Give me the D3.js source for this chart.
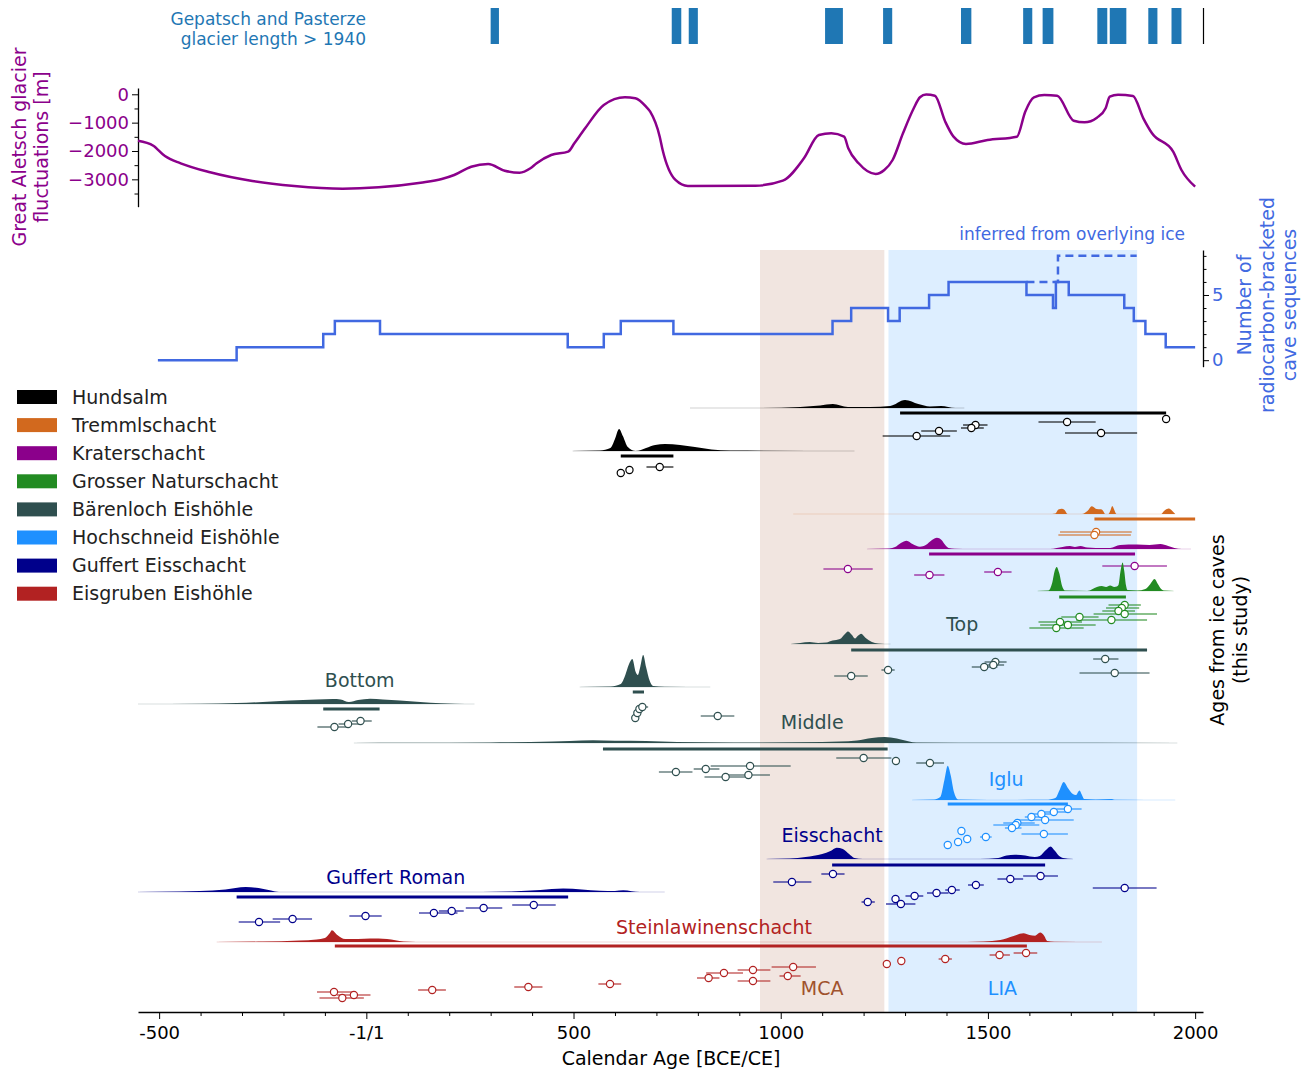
<!DOCTYPE html>
<html>
<head>
<meta charset="utf-8">
<script src="https://cdnjs.cloudflare.com/ajax/libs/d3/7.8.5/d3.min.js"></script>
<style>
  body { margin: 0; background: #fff; }
  text { font-family: "DejaVu Sans", sans-serif; }
</style>
</head>
<body>
<svg id="chart" width="1311" height="1073"></svg>
<script>
// ---- data ----
const xTickValues = [-500, 0, 500, 1000, 1500, 2000];
const xTickLabels = ['-500', '-1/1', '500', '1000', '1500', '2000'];

// Gepatsch / Pasterze glacier longer than 1940 (start, end years)
const glacierPeriods = [[300, 320], [737, 760], [778, 800], [1107, 1150], [1247, 1269], [1435, 1460],
  [1585, 1607], [1632, 1658], [1764, 1788], [1794, 1834], [1887, 1909], [1943, 1967]];

// Great Aletsch glacier fluctuations [m]
const aletschYears = [-551, -514, -486, -448, -377, -275, -174, -57, 30, 131, 182, 212, 253, 294, 334, 370, 396, 411,
  446, 487, 502, 528, 573, 624, 649, 675, 685, 708, 715, 746, 776, 939, 1005, 1056, 1092, 1122, 1153, 1163, 1188,
  1229, 1250, 1270, 1295, 1321, 1336, 1351, 1372, 1397, 1417, 1447, 1499, 1570, 1590, 1611, 1636, 1667, 1707, 1733,
  1763, 1784, 1794, 1814, 1850, 1875, 1896, 1947, 1967, 2000];
const aletschValues = [-1637, -1813, -2180, -2434, -2751, -3058, -3235, -3330, -3280, -3118, -2988, -2847, -2554,
  -2459, -2695, -2765, -2610, -2434, -2141, -2025, -1728, -1199, -377, -106, -141, -437, -613, -1496, -1964, -3022,
  -3234, -3223, -3046, -2257, -1435, -1375, -1495, -1904, -2434, -2811, -2670, -2317, -1376, -494, -106, -10, -49,
  -966, -1495, -1753, -1612, -1495, -613, -106, -25, -49, -931, -988, -825, -494, -84, -14, -60, -847, -1376, -2025,
  -2670, -3259];

// number of radiocarbon-bracketed cave sequences
const countYears = [-503, -313, -104, -76, 33, 486, 573, 614, 741, 1125, 1170, 1259, 1287, 1358, 1405, 1593, 1657,
  1664, 1695, 1829, 1852, 1880, 1929, 2000];
const countValues = [0, 1, 2, 3, 2, 1, 2, 3, 2, 3, 4, 3, 4, 5, 6, 5, 4, 6, 5, 4, 3, 2, 1, 1];
const inferredYears = [1593, 1669, 1859];
const inferredValues = [6, 8, 8];

// climate periods
const periodNames = ['MCA', 'LIA'];
const periodRanges = [[950, 1250], [1260, 1860]];
const periodLabelYears = [1100, 1535];

// caves
const caveNames = ['Hundsalm', 'Tremmlschacht', 'Kraterschacht', 'Grosser Naturschacht', 'Bärenloch Eishöhle',
  'Hochschneid Eishöhle', 'Guffert Eisschacht', 'Eisgruben Eishöhle'];
const caveColors = ['black', 'chocolate', 'darkmagenta', 'forestgreen', 'darkslategray', 'dodgerblue', 'darkblue', 'firebrick'];

// age densities [year, height] and dates [median, lower, upper, offset]
const hundsalmUpperDensity = [[781, 0], [950, 0], [1047, 0.1], [1095, 0.25], [1126, 0.4], [1162, 0.1], [1216, 0.1],
  [1264, 0.2], [1300, 0.8], [1332, 0.4], [1360, 0.15], [1387, 0.2], [1421, 0], [1443, 0]];
const hundsalmUpperDates = [[1930, 1930, 1930, 59.3], [1691, 1622, 1760, 59.0], [1382, 1339, 1425, 58.1],
  [1470, 1440, 1499, 58.7], [1460, 1435, 1490, 58.4], [1328, 1246, 1409, 57.6], [1773, 1686, 1860, 57.9]];

const hundsalmLowerDensity = [[498, 0], [564, 0.05], [589, 0.3], [600, 1.2], [610, 2.2], [619, 1.5], [631, 0.4],
  [650, 0], [675, 0.3], [697, 0.6], [721, 0.7], [757, 0.6], [793, 0.4], [833, 0.15], [878, 0.05], [1178, 0]];
const hundsalmLowerDates = [[614, 608, 621, 53.9], [635, 630, 640, 54.2], [708, 676, 741, 54.5]];

const tremmlDensity = [[1030, 0], [1655, 0], [1663, 0.05], [1670, 0.45], [1678, 0.53], [1685, 0.4], [1692, 0],
  [1727, 0], [1740, 0.3], [1751, 0.77], [1762, 0.5], [1773, 0.47], [1778, 0.3], [1783, 0], [1791, 0], [1796, 0.4],
  [1800, 0.8], [1805, 0.4], [1810, 0], [1918, 0], [1925, 0.3], [1936, 0.54], [1945, 0.3], [1952, 0]];
const tremmlDates = [[1761, 1674, 1847, 48.0], [1757, 1670, 1845, 47.7]];

const kraterDensity = [[1208, 0], [1262, 0.05], [1276, 0.2], [1290, 0.6], [1304, 0.83], [1318, 0.5], [1336, 0.23],
  [1350, 0.4], [1365, 0.9], [1377, 1.13], [1388, 0.9], [1397, 0.4], [1405, 0.1], [1420, 0.02], [1460, 0], [1650, 0],
  [1666, 0.1], [1680, 0.2], [1698, 0.3], [1710, 0.2], [1723, 0.3], [1740, 0.15], [1760, 0.1], [1795, 0.1],
  [1819, 0.4], [1860, 0.45], [1890, 0.4], [1916, 0.5], [1935, 0.3], [1950, 0.1], [1968, 0], [1990, 0]];
const kraterDates = [[1162, 1103, 1222, 44.3], [1359, 1322, 1395, 43.7], [1524, 1491, 1557, 44.0],
  [1854, 1776, 1932, 44.6]];

const naturDensity = [[1620, 0], [1646, 0.05], [1655, 0.8], [1661, 2.0], [1666, 2.4], [1672, 1.8], [1679, 0.5],
  [1686, 0.05], [1740, 0], [1763, 0.4], [1775, 0.5], [1785, 0.4], [1795, 0.55], [1805, 0.4], [1811, 0.45],
  [1815, 0.6], [1820, 2.0], [1825, 2.86], [1829, 2.0], [1833, 0.6], [1837, 0.1], [1860, 0.05], [1880, 0.2],
  [1892, 0.7], [1902, 1.2], [1910, 0.7], [1918, 0.2], [1924, 0.05], [1948, 0]];
const naturDates = [[1830, 1791, 1869, 40.7], [1823, 1785, 1865, 40.4], [1815, 1776, 1855, 40.1],
  [1830, 1755, 1908, 39.8], [1721, 1677, 1767, 39.5], [1798, 1713, 1884, 39.2], [1674, 1622, 1727, 39.0],
  [1693, 1626, 1760, 38.7], [1665, 1600, 1731, 38.4]];

const baerenTopDensity = [[1025, 0], [1047, 0.1], [1070, 0.2], [1090, 0.1], [1110, 0.15], [1125, 0.35], [1143, 0.5],
  [1155, 1.0], [1162, 1.26], [1172, 0.9], [1179, 0.55], [1187, 0.85], [1194, 1.03], [1205, 0.6], [1220, 0.2],
  [1235, 0.05], [1250, 0], [1265, 0]];
const baerenTopDates = [[1170, 1129, 1210, 33.6], [1259, 1243, 1275, 34.2], [1491, 1461, 1523, 34.5],
  [1518, 1492, 1545, 35.0], [1513, 1499, 1539, 34.7], [1783, 1754, 1815, 35.3], [1806, 1721, 1890, 33.9]];

const baerenBottomDensity = [[-551, 0], [-400, 0.02], [-313, 0.1], [-250, 0.2], [-185, 0.35], [-120, 0.45],
  [-81, 0.5], [-62, 0.45], [-42, 0.2], [-20, 0.4], [9, 0.53], [40, 0.45], [81, 0.35], [130, 0.2], [180, 0.08],
  [214, 0.03], [261, 0]];
const baerenBottomDates = [[-77, -118, -45, 28.5], [-44, -67, -12, 28.8], [-14, -35, 13, 29.1]];

const baerenBottomPeakDensity = [[515, 0], [590, 0.05], [614, 0.3], [625, 1.2], [633, 2.2], [642, 2.8], [650, 1.5],
  [655, 1.2], [661, 2.0], [668, 3.2], [675, 2.0], [684, 0.6], [692, 0.1], [720, 0.03], [830, 0]];
const baerenBottomPeakDates = [[649, 645, 653, 29.4], [654, 650, 658, 29.9], [659, 655, 663, 30.3],
  [666, 660, 680, 30.5], [848, 807, 888, 29.6]];

const baerenMiddleDensity = [[-30, 0], [100, 0.02], [300, 0.05], [450, 0.15], [491, 0.2], [547, 0.27], [600, 0.22],
  [675, 0.2], [750, 0.1], [887, 0.05], [1100, 0.1], [1184, 0.25], [1220, 0.5], [1251, 0.6], [1280, 0.45],
  [1310, 0.15], [1327, 0.05], [1530, 0.02], [1957, 0]];
const baerenMiddleDates = [[747, 706, 787, 24.0], [819, 790, 852, 24.3], [926, 831, 1024, 24.6],
  [922, 869, 974, 23.7], [867, 816, 926, 23.5], [1200, 1134, 1267, 25.4], [1278, 1270, 1286, 25.1],
  [1360, 1327, 1394, 24.9]];

const igluDensity = [[1317, 0], [1370, 0.05], [1385, 0.3], [1395, 2.0], [1403, 3.43], [1410, 2.5], [1418, 0.8],
  [1428, 0.05], [1500, 0], [1640, 0.02], [1663, 0.2], [1673, 1.0], [1683, 1.8], [1693, 1.2], [1705, 0.6],
  [1712, 0.5], [1721, 0.96], [1727, 0.5], [1732, 0.1], [1760, 0.05], [1796, 0.1], [1810, 0.02], [1952, 0]];
const igluDates = [[1693, 1665, 1726, 20.3], [1659, 1637, 1693, 20.0], [1629, 1605, 1654, 19.8],
  [1605, 1589, 1625, 19.5], [1638, 1569, 1707, 19.2], [1571, 1537, 1613, 18.9], [1567, 1513, 1624, 18.7],
  [1558, 1541, 1581, 18.4], [1635, 1581, 1693, 17.8], [1495, 1481, 1509, 17.5], [1436, 1436, 1436, 18.1],
  [1450, 1450, 1450, 17.3], [1428, 1428, 1428, 17.0], [1403, 1403, 1403, 16.7]];

const eisschachtDensity = [[966, 0], [1022, 0.05], [1060, 0.2], [1100, 0.5], [1120, 0.8], [1135, 1.13],
  [1150, 1.0], [1165, 0.5], [1178, 0.1], [1198, 0], [1480, 0], [1525, 0.1], [1545, 0.35], [1565, 0.43],
  [1590, 0.35], [1613, 0.2], [1625, 0.3], [1640, 0.9], [1651, 1.26], [1662, 0.8], [1672, 0.3], [1681, 0.1],
  [1705, 0]];
const eisschachtDates = [[1027, 982, 1074, 13.0], [1126, 1098, 1154, 13.8], [1210, 1195, 1227, 11.0],
  [1277, 1272, 1282, 11.3], [1290, 1254, 1325, 10.8], [1323, 1301, 1344, 11.6], [1376, 1353, 1405, 11.9],
  [1413, 1397, 1432, 12.2], [1471, 1452, 1490, 12.7], [1554, 1523, 1585, 13.3], [1627, 1585, 1669, 13.6],
  [1830, 1753, 1907, 12.4]];

const guffertRomanDensity = [[-551, 0], [-450, 0.05], [-402, 0.1], [-340, 0.25], [-291, 0.5], [-260, 0.4],
  [-230, 0.15], [-211, 0], [-100, 0], [280, 0], [350, 0.05], [420, 0.2], [475, 0.34], [520, 0.25], [564, 0.12],
  [600, 0.1], [620, 0.17], [640, 0.08], [660, 0], [720, 0]];
const guffertRomanDates = [[-259, -308, -208, 9.0], [-178, -226, -131, 9.3], [-2, -41, 37, 9.6],
  [163, 127, 220, 9.9], [206, 175, 235, 10.1], [283, 240, 328, 10.4], [404, 352, 457, 10.7]];

const steinDensity = [[-361, 0], [-250, 0.05], [-161, 0.15], [-120, 0.25], [-100, 0.4], [-88, 0.9], [-83, 1.18],
  [-70, 0.7], [-51, 0.3], [-20, 0.3], [9, 0.35], [50, 0.3], [90, 0.05], [120, 0], [1450, 0], [1490, 0.05],
  [1530, 0.2], [1562, 0.6], [1586, 0.87], [1600, 0.7], [1614, 0.63], [1626, 0.94], [1636, 0.6], [1643, 0.1],
  [1660, 0.02], [1775, 0]];
const steinDates = [[-78, -119, -25, 2.0], [-30, -71, 10, 1.7], [-58, -113, -6, 1.4], [159, 125, 192, 2.2],
  [391, 357, 425, 2.5], [588, 560, 615, 2.8], [826, 798, 852, 3.4], [863, 820, 909, 3.9], [933, 896, 975, 4.2],
  [933, 896, 975, 3.1], [1030, 978, 1085, 4.5], [1017, 997, 1048, 3.6], [1256, 1247, 1264, 4.8],
  [1291, 1286, 1296, 5.1], [1397, 1381, 1413, 5.3], [1528, 1504, 1553, 5.7], [1592, 1562, 1619, 5.9]];

// sequence: cave index, baseline offset, span [from, to, offset]
const sequences = [
  { cave: 0, base: 60.4, span: [1288, 1930, 59.9], density: hundsalmUpperDensity, dates: hundsalmUpperDates },
  { cave: 0, base: 56.1, span: [614, 741, 55.6], density: hundsalmLowerDensity, dates: hundsalmLowerDates },
  { cave: 1, base: 49.8, span: [1757, 2000, 49.3], density: tremmlDensity, dates: tremmlDates },
  { cave: 2, base: 46.3, span: [1358, 1855, 45.8], density: kraterDensity, dates: kraterDates },
  { cave: 3, base: 42.1, span: [1672, 1833, 41.5], density: naturDensity, dates: naturDates },
  { cave: 4, base: 36.8, span: [1170, 1884, 36.2], density: baerenTopDensity, dates: baerenTopDates },
  { cave: 4, base: 30.8, span: [-104, 32, 30.3], density: baerenBottomDensity, dates: baerenBottomDates },
  { cave: 4, base: 32.5, span: [643, 670, 32.0], density: baerenBottomPeakDensity, dates: baerenBottomPeakDates },
  { cave: 4, base: 26.9, span: [571, 1258, 26.3], density: baerenMiddleDensity, dates: baerenMiddleDates },
  { cave: 5, base: 21.2, span: [1403, 1693, 20.8], density: igluDensity, dates: igluDates },
  { cave: 6, base: 15.3, span: [1124, 1638, 14.7], density: eisschachtDensity, dates: eisschachtDates },
  { cave: 6, base: 12.0, span: [-313, 487, 11.5], density: guffertRomanDensity, dates: guffertRomanDates },
  { cave: 7, base: 7.0, span: [-76, 1594, 6.6], density: steinDensity, dates: steinDates }
];

const seqLabels = ['Top', 'Bottom', 'Middle', 'Iglu', 'Eisschacht', 'Guffert Roman', 'Steinlawinenschacht'];
const seqLabelAt = [[1438, 38.7], [-16, 33.1], [1076, 28.9], [1544, 23.2], [1124, 17.6], [71, 13.4], [839, 8.4]];
const seqLabelCave = [4, 4, 4, 5, 6, 6, 7];

// ---- chart ----
const svg = d3.select('#chart');
const x = d3.scaleLinear().domain([-551, 2019]).range([138, 1203]);
const yAl = d3.scaleLinear().domain([-3965, 222]).range([206.7, 88]);
const yCnt = d3.scaleLinear().domain([-0.5, 8.45]).range([366.7, 250]);
const yAge = d3.scaleLinear().domain([0, 76.2]).range([1012, 250]);

// period shading
const periodColors = ['#a0522d', '#1e90ff'];
svg.append('g').selectAll('rect')
  .data(periodRanges)
  .enter().append('rect')
  .attr('x', d => x(d[0]))
  .attr('width', d => x(d[1]) - x(d[0]))
  .attr('y', yAge(76.2))
  .attr('height', yAge(0) - yAge(76.2))
  .attr('fill', (d, i) => periodColors[i])
  .attr('fill-opacity', 0.15);

svg.append('g').selectAll('text')
  .data(periodNames)
  .enter().append('text')
  .attr('x', (d, i) => x(periodLabelYears[i]))
  .attr('y', yAge(2.3))
  .attr('text-anchor', 'middle')
  .attr('dominant-baseline', 'middle')
  .attr('font-size', 19)
  .attr('fill', (d, i) => i === 0 ? 'sienna' : 'dodgerblue')
  .text(d => d);

// glacier length bars
svg.append('g').selectAll('rect')
  .data(glacierPeriods)
  .enter().append('rect')
  .attr('x', d => x(d[0]))
  .attr('width', d => x(d[1]) - x(d[0]))
  .attr('y', 8)
  .attr('height', 36)
  .attr('fill', '#1f77b4');
svg.append('line')
  .attr('x1', 1203.5).attr('x2', 1203.5).attr('y1', 8).attr('y2', 44)
  .attr('stroke', 'black').attr('stroke-width', 1.2);
svg.append('text')
  .attr('x', 366).attr('y', 25)
  .attr('text-anchor', 'end').attr('font-size', 17).attr('fill', '#1f77b4')
  .selectAll('tspan').data(['Gepatsch and Pasterze', 'glacier length > 1940']).enter().append('tspan')
  .attr('x', 366).attr('dy', (d, i) => i === 0 ? 0 : 20).text(d => d);

// Aletsch glacier
const alAxis = svg.append('g').attr('transform', 'translate(138,0)')
  .call(d3.axisLeft(yAl).tickValues([0, -1000, -2000, -3000]).tickFormat(d3.format('d')).tickSize(6).tickSizeOuter(0));
alAxis.selectAll('text').attr('fill', 'darkmagenta').attr('font-size', 18).attr('font-family', 'DejaVu Sans');
svg.append('g').attr('transform', 'translate(138,0)')
  .call(d3.axisLeft(yAl).tickValues([-500, -1500, -2500, -3500]).tickSize(3.5).tickFormat('').tickSizeOuter(0))
  .select('.domain').remove();

svg.append('path')
  .datum(aletschYears.map((yr, i) => [yr, aletschValues[i]]))
  .attr('fill', 'none')
  .attr('stroke', 'darkmagenta')
  .attr('stroke-width', 2.5)
  .attr('d', d3.line().x(d => x(d[0])).y(d => yAl(d[1])).curve(d3.curveMonotoneX));

svg.append('text')
  .attr('transform', 'translate(20,147) rotate(-90)')
  .attr('text-anchor', 'middle').attr('font-size', 19).attr('fill', 'darkmagenta')
  .selectAll('tspan').data(['Great Aletsch glacier', 'fluctuations [m]']).enter().append('tspan')
  .attr('x', 0).attr('dy', (d, i) => i === 0 ? 6 : 22).text(d => d);

// count of sequences
const cntAxis = svg.append('g').attr('transform', 'translate(1203,0)')
  .call(d3.axisRight(yCnt).tickValues([0, 5]).tickSize(6).tickSizeOuter(0));
cntAxis.selectAll('text').attr('fill', 'royalblue').attr('font-size', 18).attr('font-family', 'DejaVu Sans');
svg.append('g').attr('transform', 'translate(1203,0)')
  .call(d3.axisRight(yCnt).tickValues([1, 2, 3, 4, 6, 7, 8]).tickSize(3.5).tickFormat('').tickSizeOuter(0))
  .select('.domain').remove();

svg.append('path')
  .datum(inferredYears.map((yr, i) => [yr, inferredValues[i]]))
  .attr('fill', 'none').attr('stroke', 'royalblue').attr('stroke-width', 2.5)
  .attr('stroke-dasharray', '8,5')
  .attr('d', d3.line().x(d => x(d[0])).y(d => yCnt(d[1])).curve(d3.curveStepAfter));
svg.append('path')
  .datum(countYears.map((yr, i) => [yr, countValues[i]]))
  .attr('fill', 'none').attr('stroke', 'royalblue').attr('stroke-width', 2.5)
  .attr('d', d3.line().x(d => x(d[0])).y(d => yCnt(d[1])).curve(d3.curveStepAfter));

svg.append('text')
  .attr('x', 1185).attr('y', 240)
  .attr('text-anchor', 'end').attr('font-size', 17).attr('fill', 'royalblue')
  .text('inferred from overlying ice');

svg.append('text')
  .attr('transform', 'translate(1245,305) rotate(-90)')
  .attr('text-anchor', 'middle').attr('font-size', 19).attr('fill', 'royalblue')
  .selectAll('tspan').data(['Number of', 'radiocarbon-bracketed', 'cave sequences']).enter().append('tspan')
  .attr('x', 0).attr('dy', (d, i) => i === 0 ? 6 : 22.5).text(d => d);

// ages from ice caves
const area = d3.area().curve(d3.curveMonotoneX);
const seqG = svg.append('g');
sequences.forEach(s => {
  const col = caveColors[s.cave];
  const first = s.density[0][0], last = s.density[s.density.length - 1][0];
  seqG.append('line')
    .attr('x1', x(first)).attr('x2', x(last))
    .attr('y1', yAge(s.base)).attr('y2', yAge(s.base))
    .attr('stroke', col).attr('stroke-opacity', 0.12).attr('stroke-width', 1.5);
  seqG.append('path')
    .datum(s.density)
    .attr('fill', col)
    .attr('d', area.x(d => x(d[0])).y0(yAge(s.base)).y1(d => yAge(s.base + d[1])));
  seqG.append('line')
    .attr('x1', x(s.span[0])).attr('x2', x(s.span[1]))
    .attr('y1', yAge(s.span[2])).attr('y2', yAge(s.span[2]))
    .attr('stroke', col).attr('stroke-width', 3);
  const dg = seqG.append('g');
  dg.selectAll('line').data(s.dates).enter().append('line')
    .attr('x1', d => x(d[1])).attr('x2', d => x(d[2]))
    .attr('y1', d => yAge(d[3])).attr('y2', d => yAge(d[3]))
    .attr('stroke', col).attr('stroke-opacity', 0.7).attr('stroke-width', 1.6);
  dg.selectAll('circle').data(s.dates).enter().append('circle')
    .attr('cx', d => x(d[0])).attr('cy', d => yAge(d[3])).attr('r', 3.6)
    .attr('fill', 'white').attr('stroke', col).attr('stroke-width', 1.2);
});

svg.append('g').selectAll('text')
  .data(seqLabels)
  .enter().append('text')
  .attr('x', (d, i) => x(seqLabelAt[i][0]))
  .attr('y', (d, i) => yAge(seqLabelAt[i][1]))
  .attr('text-anchor', 'middle').attr('dominant-baseline', 'middle')
  .attr('font-size', 19)
  .attr('fill', (d, i) => caveColors[seqLabelCave[i]])
  .text(d => d);

svg.append('text')
  .attr('transform', 'translate(1218,630) rotate(-90)')
  .attr('text-anchor', 'middle').attr('font-size', 19).attr('fill', 'black')
  .selectAll('tspan').data(['Ages from ice caves', '(this study)']).enter().append('tspan')
  .attr('x', 0).attr('dy', (d, i) => i === 0 ? 6 : 22.5).text(d => d);

// legend
const legend = svg.append('g');
caveNames.forEach((name, i) => {
  const ly = 397 + i * 28.1;
  legend.append('rect').attr('x', 17).attr('y', ly - 7).attr('width', 40).attr('height', 14).attr('fill', caveColors[i]);
  legend.append('text').attr('x', 72).attr('y', ly + 1).attr('dominant-baseline', 'middle')
    .attr('font-size', 19).attr('fill', '#222').text(name);
});

// bottom axis
const xAxis = svg.append('g').attr('transform', `translate(0,${yAge(0)})`)
  .call(d3.axisBottom(x).tickValues(xTickValues).tickFormat((d, i) => xTickLabels[i]).tickSize(7).tickSizeOuter(0));
xAxis.selectAll('text').attr('fill', 'black').attr('font-size', 18).attr('font-family', 'DejaVu Sans').attr('dy', '0.95em');
svg.append('g').attr('transform', `translate(0,${yAge(0)})`)
  .call(d3.axisBottom(x).tickValues(d3.range(-400, 2000, 100).filter(v => v % 500 !== 0)).tickSize(4).tickFormat('').tickSizeOuter(0))
  .select('.domain').remove();

svg.append('text')
  .attr('x', 671).attr('y', 1065)
  .attr('text-anchor', 'middle').attr('font-size', 19).attr('fill', 'black')
  .text('Calendar Age [BCE/CE]');

svg.selectAll('.domain').attr('stroke-width', 1.3);
</script>
</body>
</html>
